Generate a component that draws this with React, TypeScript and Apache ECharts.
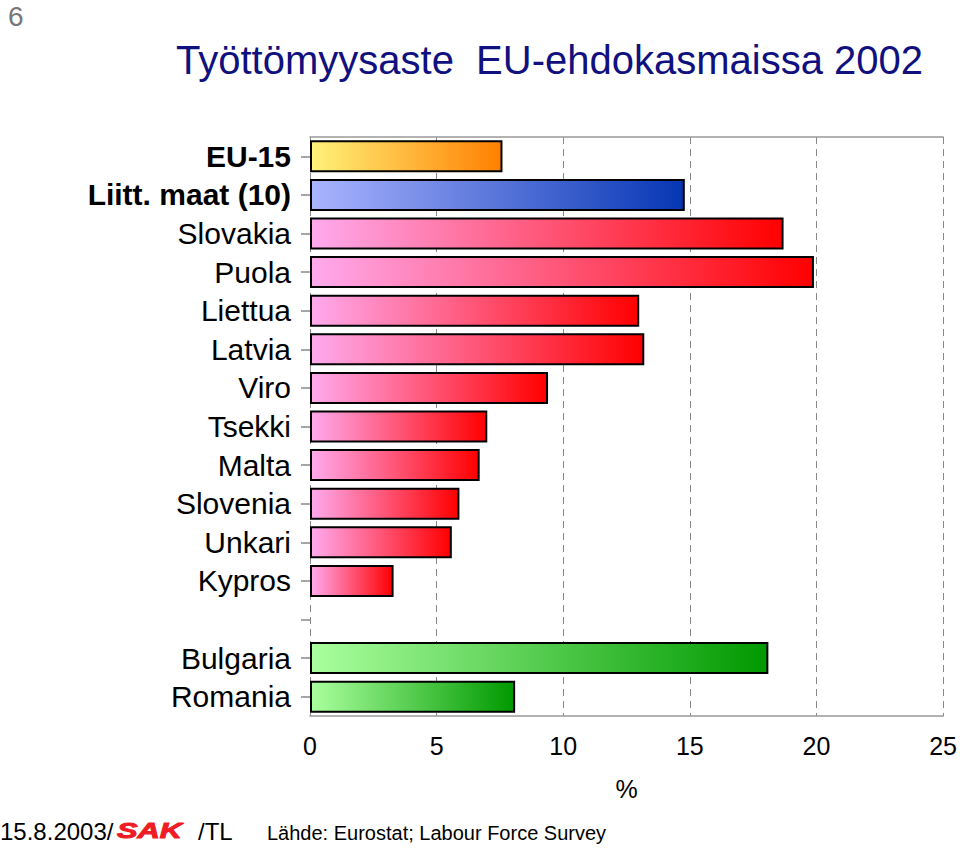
import React, { useEffect, useRef } from "react";
import * as echarts from "echarts";

const categories = [
  "EU-15",
  "Liitt. maat (10)",
  "Slovakia",
  "Puola",
  "Liettua",
  "Latvia",
  "Viro",
  "Tsekki",
  "Malta",
  "Slovenia",
  "Unkari",
  "Kypros",
  "",
  "Bulgaria",
  "Romania",
];
const values: (number | null)[] = [7.6, 14.8, 18.7, 19.9, 13.0, 13.2, 9.4, 7.0, 6.7, 5.9, 5.6, 3.3, null, 18.1, 8.1];
const groups = ["eu", "acc", "cand", "cand", "cand", "cand", "cand", "cand", "cand", "cand", "cand", "cand", "", "cand2", "cand2"];
const boldLabels = ["EU-15", "Liitt. maat (10)"];
const xTicks = [0, 25, 5];

const gradients: Record<string, [string, string]> = {
  eu: ["#fff27a", "#ff8000"],
  acc: ["#aab4ff", "#0636b4"],
  cand: ["#ffaaee", "#ff0000"],
  cand2: ["#aaff9e", "#009900"],
};

const FONT = "'Liberation Sans', Arial, Helvetica, sans-serif";

export default function App() {
  const ref = useRef<HTMLDivElement>(null);
  useEffect(() => {
    if (!ref.current) return;
    const chart = echarts.init(ref.current, null, { renderer: "svg" });
    const data = values.map((v, i) => {
      const g = gradients[groups[i]];
      return {
        value: v,
        itemStyle: g
          ? {
              color: new echarts.graphic.LinearGradient(0, 0, 1, 0, [
                { offset: 0, color: g[0] },
                { offset: 1, color: g[1] },
              ]),
              borderColor: "#000",
              borderWidth: 2,
            }
          : undefined,
      };
    });
    chart.setOption({
      animation: false,
      backgroundColor: "#fff",
      textStyle: { fontFamily: FONT },
      grid: { left: 310, right: 15, top: 137, bottom: 132, containLabel: false },
      xAxis: [
        {
          type: "value",
          min: xTicks[0],
          max: xTicks[1],
          interval: xTicks[2],
          position: "bottom",
          axisLine: { show: true, lineStyle: { color: "#999", width: 1.5 } },
          axisTick: { show: false },
          axisLabel: { fontSize: 25, color: "#000", margin: 17, fontFamily: FONT },
          splitLine: { show: true, lineStyle: { color: "#888", type: [7, 5], width: 1 } },
          name: "%",
          nameLocation: "middle",
          nameGap: 60,
          nameTextStyle: { fontSize: 25, color: "#000", fontFamily: FONT },
        },
        {
          type: "value",
          min: xTicks[0],
          max: xTicks[1],
          interval: xTicks[2],
          position: "top",
          axisLine: { show: true, lineStyle: { color: "#999", width: 1.5 } },
          axisTick: { show: false },
          axisLabel: { show: false },
          splitLine: { show: false },
        },
      ],
      yAxis: {
        type: "category",
        data: categories,
        inverse: true,
        axisLine: { show: false },
        axisTick: { show: true, alignWithLabel: true, interval: 0, length: 9, lineStyle: { color: "#888", width: 1.5 } },
        axisLabel: {
          interval: 0,
          fontSize: 30,
          color: "#000",
          margin: 19,
          fontFamily: FONT,
          formatter: (v: string) => (boldLabels.includes(v) ? `{b|${v}}` : v),
          rich: {
            b: { fontSize: 30, fontWeight: "bold", color: "#000", fontFamily: FONT },
          },
        },
      },
      series: [
        {
          type: "bar",
          data,
          barCategoryGap: "17%",
          xAxisIndex: 0,
        },
      ],
      graphic: [
        {
          type: "text",
          left: 8,
          top: 2,
          style: { text: "6", fontSize: 28, fill: "#777", fontFamily: FONT },
        },
        {
          type: "text",
          left: 176,
          top: 40,
          style: {
            text: "Työttömyysaste  EU-ehdokasmaissa 2002",
            fontSize: 40,
            fill: "#10107e",
            fontFamily: FONT,
          },
        },
        {
          type: "text",
          left: 0,
          top: 819,
          style: { text: "15.8.2003/", fontSize: 24, fill: "#000", fontFamily: FONT },
        },
        {
          type: "text",
          x: 117,
          y: 820,
          scaleX: 1.4,
          style: {
            text: "SAK",
            fontSize: 22,
            fontWeight: "bold",
            fontStyle: "italic",
            fill: "#ee1c24",
            stroke: "#ee1c24",
            lineWidth: 1,
            fontFamily: FONT,
          },
        },
        {
          type: "text",
          left: 198,
          top: 819,
          style: { text: "/TL", fontSize: 24, fill: "#000", fontFamily: FONT },
        },
        {
          type: "text",
          left: 267,
          top: 823,
          style: {
            text: "Lähde: Eurostat; Labour Force Survey",
            fontSize: 20,
            fill: "#000",
            fontFamily: FONT,
          },
        },
      ],
    });
    return () => chart.dispose();
  }, []);
  return (
    <div
      ref={ref}
      style={{ position: "fixed", left: 0, top: 0, width: 960, height: 848, background: "#fff" }}
    />
  );
}
